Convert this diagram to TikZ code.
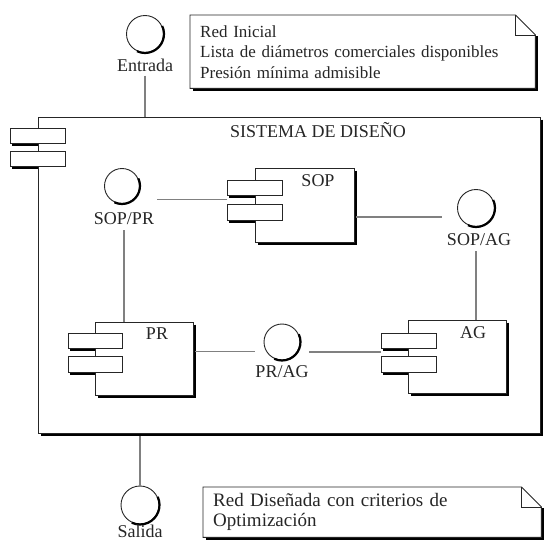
\documentclass[tikz,border=0pt]{standalone}
\usepackage{fontspec}
\setmainfont{Liberation Serif}
\usetikzlibrary{calc,backgrounds}
\newcommand{\boxshd}[1]{\draw[shdline] ([xshift=1.3pt,yshift=-3pt]#1.north east) -- ([xshift=1.3pt,yshift=-1.3pt]#1.south east) -- ([xshift=3pt,yshift=-1.3pt]#1.south west);}
\newcommand{\circshd}[2]{\draw[shdline] ([shift={(25:#2)}]#1.center) arc[start angle=25,end angle=-115,radius=#2];}
\begin{document}
\begin{tikzpicture}[x=1pt,y=-1pt,
  shdline/.style={draw=black,line width=2.2pt,line cap=butt},
  compbox/.style={draw=black!85,line width=0.9pt,fill=white,inner sep=0pt},
  portbox/.style={draw=black!85,line width=0.9pt,fill=white,inner sep=0pt,minimum width=55pt},
  ifacecircle/.style={circle,draw=black!85,line width=0.9pt,fill=white,minimum size=37pt,inner sep=0pt},
  lbltext/.style={font=\fontsize{18}{20}\selectfont,inner sep=0pt,text=black!85},
  connline/.style={draw=black!50,line width=1.2pt},
  portshd/.style={fill=black},
  notepath/.style={draw=black!85,line width=0.9pt,fill=white},
  notefold/.style={draw=black!85,line width=0.9pt}
]
\useasboundingbox (0,0) rectangle (546,542);

% notes
\node[anchor=north west, minimum width=345pt, minimum height=73pt, text width=325pt,
      inner xsep=10pt, inner ysep=0pt, align=left, text=black!85,
      font=\fontsize{17}{20.5}\selectfont] (note1) at (190,15)
  {Red Inicial\\Lista de diámetros comerciales disponibles\\Presión mínima admisible};
\node[anchor=north west, minimum width=338pt, minimum height=50pt, text width=318pt,
      inner xsep=10pt, inner ysep=0pt, align=left, text=black!85,
      font=\fontsize{19}{20}\selectfont] (note2) at (203,487)
  {Red Diseñada con criterios de\\Optimización};
\begin{scope}[on background layer]
\draw[notepath] (note1.north west) -- ([xshift=-20pt]note1.north east) -- ([yshift=-20pt]note1.north east) -- (note1.south east) -- (note1.south west) -- cycle;
\draw[notefold] ([xshift=-20pt]note1.north east) -- ([xshift=-20pt,yshift=-20pt]note1.north east) -- ([yshift=-20pt]note1.north east);
\draw[shdline] ([xshift=1.3pt,yshift=-21pt]note1.north east) -- ([xshift=1.3pt,yshift=-1.3pt]note1.south east) -- ([xshift=3pt,yshift=-1.3pt]note1.south west);
\draw[notepath] (note2.north west) -- ([xshift=-20pt]note2.north east) -- ([yshift=-20pt]note2.north east) -- (note2.south east) -- (note2.south west) -- cycle;
\draw[notefold] ([xshift=-20pt]note2.north east) -- ([xshift=-20pt,yshift=-20pt]note2.north east) -- ([yshift=-20pt]note2.north east);
\draw[shdline] ([xshift=1.3pt,yshift=-21pt]note2.north east) -- ([xshift=1.3pt,yshift=-1.3pt]note2.south east) -- ([xshift=3pt,yshift=-1.3pt]note2.south west);
\end{scope}

% system box
\node[compbox, minimum width=502pt, minimum height=316pt] (sys) at (289,275) {};
\boxshd{sys}
\fill[portshd] ($(10,143)+(2,0)$) rectangle ($(sys.west |- 0,143)+(0,2.5)$);
\fill[portshd] ($(10,166)+(2,0)$) rectangle ($(sys.west |- 0,166)+(0,2.5)$);
\node[portbox, minimum height=15pt] (sysp1) at (37.5,135.5) {};
\node[portbox, minimum height=15pt] (sysp2) at (37.5,158.5) {};
\node[lbltext] (systitle) at (318,130) {SISTEMA DE DISEÑO};

% interfaces
\node[ifacecircle] (entrada) at (145,34) {};
\circshd{entrada}{19pt}
\node[lbltext] (entl) at (145,65) {Entrada};
\node[ifacecircle, minimum size=35pt] (soppr) at (122,186) {};
\circshd{soppr}{18pt}
\node[lbltext] (sopprl) at (124,219) {SOP/PR};
\node[ifacecircle] (sopag) at (476,208) {};
\circshd{sopag}{19pt}
\node[lbltext] (sopagl) at (479,240) {SOP/AG};
\node[ifacecircle, minimum size=36pt] (prag) at (282,342) {};
\circshd{prag}{18.5pt}
\node[lbltext] (pragl) at (282,372) {PR/AG};
\node[ifacecircle, minimum size=38pt] (salida) at (140,505) {};
\circshd{salida}{19.5pt}
\node[lbltext] (salidal) at (140,531) {Salida};

% SOP component
\node[compbox, minimum width=99pt, minimum height=74pt] (sop) at (304.5,205) {};
\boxshd{sop}
\fill[portshd] ($(sop.west |- 0,195)+(-26,0)$) rectangle ($(sop.west |- 0,195)+(0,2.5)$);
\fill[portshd] ($(sop.west |- 0,220)+(-26,0)$) rectangle ($(sop.west |- 0,220)+(0,2.5)$);
\node[portbox, minimum height=15pt] (sopp1) at (254.5,187.5) {};
\node[portbox, minimum height=16pt] (sopp2) at (254.5,212) {};
\node[lbltext] (sopl) at (318,181) {SOP};

% PR component
\node[compbox, minimum width=98pt, minimum height=73pt] (pr) at (144,358.5) {};
\boxshd{pr}
\fill[portshd] ($(pr.west |- 0,348)+(-25,0)$) rectangle ($(pr.west |- 0,348)+(0,2.5)$);
\fill[portshd] ($(pr.west |- 0,372)+(-25,0)$) rectangle ($(pr.west |- 0,372)+(0,2.5)$);
\node[portbox, minimum width=54pt, minimum height=15pt] (prp1) at (95,340.5) {};
\node[portbox, minimum width=54pt, minimum height=16pt] (prp2) at (95,364) {};
\node[lbltext] (prl) at (157,334) {PR};

% AG component
\node[compbox, minimum width=98pt, minimum height=73pt] (ag) at (457,356.5) {};
\boxshd{ag}
\fill[portshd] ($(ag.west |- 0,348)+(-25,0)$) rectangle ($(ag.west |- 0,348)+(0,2.5)$);
\fill[portshd] ($(ag.west |- 0,372)+(-25,0)$) rectangle ($(ag.west |- 0,372)+(0,2.5)$);
\node[portbox, minimum height=15pt] (agp1) at (408.5,340.5) {};
\node[portbox, minimum height=16pt] (agp2) at (408.5,364) {};
\node[lbltext] (agl) at (473,333) {AG};

% connectors
\draw[connline] ([yshift=-4pt]entl.south) -- (entl.south |- sys.north);
\draw[connline, shorten >=17pt] ($(sopp1.south west)!.5!(sopp2.north west)$) coordinate (c1) -- (c1 -| soppr.east);
\draw[connline] ([yshift=-5pt]sopprl.south) -- (sopprl.south |- pr.north);
\draw[connline, shorten >=15pt, shorten <=2pt] ($(sop.south east)!.34!(sop.north east)$) coordinate (c2) -- (c2 -| sopag.west);
\draw[connline] ([yshift=-5pt]sopagl.south -| sopag.south) -- (sopag.south |- ag.north);
\draw[connline, shorten >=9pt, shorten <=2pt] ($(pr.south east)!.59!(pr.north east)$) coordinate (c3) -- (c3 -| prag.west);
\draw[connline, shorten >=9pt] ($(agp1.south west)!.5!(agp2.north west)$) coordinate (c4) -- (c4 -| prag.east);
\draw[connline] ([yshift=-3pt]salida.north |- sys.south) -- (salida.north);
\end{tikzpicture}
\end{document}
